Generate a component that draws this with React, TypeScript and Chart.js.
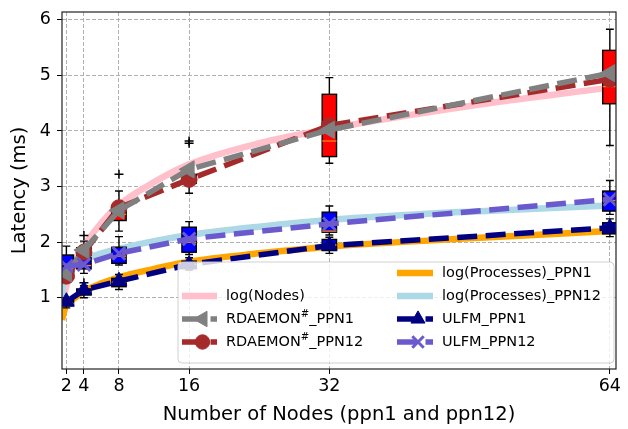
import React, { useEffect, useRef } from 'react';
import { Chart, registerables } from 'chart.js';
import { drawPoint } from 'chart.js/helpers';

Chart.register(...registerables);

const FONT = '"DejaVu Sans", "Liberation Sans", sans-serif';

// ---------- data ----------
const nodes = [2, 4, 8, 16, 32, 64];
const xTickValues = [2, 4, 8, 16, 32, 64];
const yTickValues = [1, 2, 3, 4, 5, 6];

// sample positions of the fitted log curves
const curveX = [1.5, 1.6, 1.75, 2, 3, 4, 6, 8, 12, 16, 24, 32, 48, 64];
const logNodes = [0.72, 0.86, 1.02, 1.22, 1.62, 1.93, 2.35, 2.67, 3.08, 3.4, 3.78, 4.04, 4.45, 4.78];
const logProcPPN1 = [0.6, 0.67, 0.76, 0.87, 1.0, 1.12, 1.26, 1.37, 1.52, 1.65, 1.8, 1.92, 2.07, 2.2];
const logProcPPN12 = [1.0, 1.25, 1.42, 1.52, 1.62, 1.69, 1.8, 1.88, 2.02, 2.13, 2.28, 2.4, 2.55, 2.66];

// measured means
const rdaemonPPN1 = [1.44, 1.86, 2.57, 3.31, 4.02, 5.04];
const rdaemonPPN12 = [1.39, 1.82, 2.62, 3.13, 4.1, 4.93];
const ulfmPPN1 = [0.93, 1.14, 1.3, 1.6, 1.94, 2.26];
const ulfmPPN12 = [1.57, 1.6, 1.8, 2.06, 2.33, 2.77];

// box plots: [whiskerLow, q1, median, q3, whiskerHigh] per node count
const boxRdaemon = [
  [1.3, 1.35, 1.42, 1.5, 1.58],
  [1.7, 1.76, 1.83, 1.9, 2.02],
  [2.2, 2.39, 2.5, 2.65, 2.92],
  [2.88, 3.06, 3.1, 3.22, 3.32],
  [3.42, 3.54, 3.82, 4.66, 4.96],
  [3.74, 4.49, 4.8, 5.45, 5.83],
];
const boxUlfmPPN12 = [
  [1.38, 1.47, 1.6, 1.77, 1.93],
  [1.44, 1.52, 1.58, 1.72, 1.8],
  [1.59, 1.62, 1.75, 1.91, 2.1],
  [1.78, 1.82, 2.0, 2.27, 2.37],
  [2.13, 2.18, 2.2, 2.54, 2.65],
  [2.5, 2.56, 2.75, 2.92, 3.11],
];
const boxUlfmPPN1 = [
  [0.82, 0.86, 0.9, 0.95, 1.0],
  [1.0, 1.05, 1.1, 1.16, 1.22],
  [1.15, 1.2, 1.28, 1.35, 1.42],
  [1.5, 1.55, 1.6, 1.66, 1.72],
  [1.8, 1.85, 1.95, 2.05, 2.09],
  [2.1, 2.15, 2.25, 2.35, 2.42],
];
// outliers [x, y]
const fliers = [
  [4, 2.12],
  [8, 3.22],
  [16, 3.78],
  [16, 3.82],
  [4, 1.27],
];

const pts = (xs: number[], ys: number[]) => xs.map((x, i) => ({ x, y: ys[i] }));

// ---------- drawing helpers ----------
const BOX_HALF = 0.82; // in x data units
const CAP_HALF = 0.45;

function drawBoxes(chart: any) {
  const { ctx, chartArea, scales } = chart;
  const xs = scales.x;
  const ys = scales.y;
  ctx.save();
  ctx.beginPath();
  ctx.rect(chartArea.left, chartArea.top, chartArea.right - chartArea.left, chartArea.bottom - chartArea.top);
  ctx.clip();
  const series: [number[][], string][] = [
    [boxUlfmPPN1, '#0000ff'],
    [boxUlfmPPN12, '#0000ff'],
    [boxRdaemon, '#ff0000'],
  ];
  series.forEach(([boxes, fill]) => {
    boxes.forEach((b, i) => {
      const xv = nodes[i];
      const xc = xs.getPixelForValue(xv);
      const xl = xs.getPixelForValue(xv - BOX_HALF);
      const xr = xs.getPixelForValue(xv + BOX_HALF);
      const cl = xs.getPixelForValue(xv - CAP_HALF);
      const cr = xs.getPixelForValue(xv + CAP_HALF);
      const [lo, q1, med, q3, hi] = b.map((v) => ys.getPixelForValue(v));
      ctx.strokeStyle = '#000';
      ctx.lineWidth = 1.4;
      ctx.setLineDash([]);
      ctx.beginPath();
      ctx.moveTo(xc, lo); ctx.lineTo(xc, q1);
      ctx.moveTo(xc, q3); ctx.lineTo(xc, hi);
      ctx.moveTo(cl, lo); ctx.lineTo(cr, lo);
      ctx.moveTo(cl, hi); ctx.lineTo(cr, hi);
      ctx.stroke();
      ctx.fillStyle = fill;
      ctx.fillRect(xl, q3, xr - xl, q1 - q3);
      ctx.strokeRect(xl, q3, xr - xl, q1 - q3);
      ctx.strokeStyle = '#ff7f0e';
      ctx.beginPath();
      ctx.moveTo(xl, med); ctx.lineTo(xr, med);
      ctx.stroke();
    });
  });
  ctx.strokeStyle = '#000';
  ctx.lineWidth = 1.5;
  fliers.forEach(([fx, fy]) => {
    const px = xs.getPixelForValue(fx);
    const py = ys.getPixelForValue(fy);
    ctx.beginPath();
    ctx.moveTo(px - 4.5, py); ctx.lineTo(px + 4.5, py);
    ctx.moveTo(px, py - 4.5); ctx.lineTo(px, py + 4.5);
    ctx.stroke();
  });
  ctx.restore();
}

function drawHandle(ctx: CanvasRenderingContext2D, ds: any, x0: number, x1: number, y: number) {
  ctx.save();
  ctx.strokeStyle = ds.borderColor;
  ctx.lineWidth = ds.borderWidth;
  ctx.lineCap = 'butt';
  ctx.setLineDash(ds.borderDash || []);
  ctx.beginPath();
  ctx.moveTo(x0, y);
  ctx.lineTo(x1, y);
  ctx.stroke();
  ctx.restore();
  if (ds.pointRadius > 0) {
    ctx.save();
    ctx.fillStyle = ds.pointBackgroundColor;
    ctx.strokeStyle = ds.pointBorderColor;
    ctx.lineWidth = ds.pointBorderWidth;
    ctx.setLineDash([]);
    drawPoint(ctx, { pointStyle: ds.pointStyle, rotation: ds.pointRotation || 0, radius: ds.pointRadius * 0.9, borderWidth: ds.pointBorderWidth } as any, (x0 + x1) / 2 + 3, y);
    ctx.restore();
  }
}

function drawLabel(ctx: CanvasRenderingContext2D, text: string, x: number, y: number) {
  ctx.fillStyle = '#000';
  ctx.textBaseline = 'middle';
  ctx.textAlign = 'left';
  const parts = text.split('#');
  ctx.font = `14.5px ${FONT}`;
  if (parts.length === 1) {
    ctx.fillText(text, x, y);
    return;
  }
  ctx.fillText(parts[0], x, y);
  let cx = x + ctx.measureText(parts[0]).width;
  ctx.font = `10px ${FONT}`;
  ctx.fillText('#', cx, y - 5);
  cx += ctx.measureText('#').width;
  ctx.font = `14.5px ${FONT}`;
  ctx.fillText(parts[1], cx, y);
}

const overlayPlugin = {
  id: 'overlay',
  beforeDatasetDraw(chart: any, args: any) {
    if (args.index === 2) drawBoxes(chart);
  },
  afterDatasetsDraw(chart: any) {
    const { ctx, chartArea } = chart;
    // axes frame
    ctx.save();
    ctx.strokeStyle = '#222';
    ctx.lineWidth = 1.2;
    ctx.setLineDash([]);
    ctx.strokeRect(chartArea.left, chartArea.top, chartArea.right - chartArea.left, chartArea.bottom - chartArea.top);
    ctx.restore();

    // legend
    ctx.save();
    const bx = 178, by = 262, bw = 436, bh = 101, r = 4;
    ctx.beginPath();
    ctx.moveTo(bx + r, by);
    ctx.arcTo(bx + bw, by, bx + bw, by + bh, r);
    ctx.arcTo(bx + bw, by + bh, bx, by + bh, r);
    ctx.arcTo(bx, by + bh, bx, by, r);
    ctx.arcTo(bx, by, bx + bw, by, r);
    ctx.closePath();
    ctx.fillStyle = 'rgba(255,255,255,0.8)';
    ctx.fill();
    ctx.strokeStyle = 'rgba(204,204,204,0.9)';
    ctx.lineWidth = 1;
    ctx.stroke();

    const ds = chart.data.datasets;
    const rows = [273, 296, 319, 342];
    const col1 = [null, ds[0], ds[1], ds[2]];
    const col2 = [ds[3], ds[4], ds[5], ds[6]];
    col1.forEach((d: any, i: number) => {
      if (!d) return;
      drawHandle(ctx, d, 182, 217, rows[i]);
      drawLabel(ctx, d.label, 226, rows[i]);
    });
    col2.forEach((d: any, i: number) => {
      drawHandle(ctx, d, 397, 433, rows[i]);
      drawLabel(ctx, d.label, 442, rows[i]);
    });
    ctx.restore();
  },
};

export default function App() {
  const ref = useRef<HTMLCanvasElement>(null);
  useEffect(() => {
    const canvas = ref.current!;
    const dashed = [20, 8.5];
    const chart = new Chart(canvas, {
      type: 'line',
      data: {
        datasets: [
          {
            label: 'log(Nodes)', data: pts(curveX, logNodes), borderColor: '#ffc0cb', borderWidth: 6.5,
            pointRadius: 0, cubicInterpolationMode: 'monotone', order: 10, clip: 0,
          },
          {
            label: 'RDAEMON#_PPN1', data: pts(nodes, rdaemonPPN1), borderColor: '#808080', borderWidth: 5.5,
            borderDash: dashed, borderCapStyle: 'butt', pointStyle: 'triangle', pointRotation: -90, pointRadius: 10,
            pointBackgroundColor: '#808080', pointBorderColor: '#808080', pointBorderWidth: 1, order: 6, clip: 0,
          },
          {
            label: 'RDAEMON#_PPN12', data: pts(nodes, rdaemonPPN12), borderColor: '#a52a2a', borderWidth: 5.5,
            borderDash: dashed, borderCapStyle: 'butt', pointStyle: 'circle', pointRadius: 8,
            pointBackgroundColor: '#a52a2a', pointBorderColor: '#a52a2a', pointBorderWidth: 1, order: 7, clip: 0,
          },
          {
            label: 'log(Processes)_PPN1', data: pts(curveX, logProcPPN1), borderColor: '#ffa500', borderWidth: 6.5,
            pointRadius: 0, cubicInterpolationMode: 'monotone', order: 9, clip: 0,
          },
          {
            label: 'log(Processes)_PPN12', data: pts(curveX, logProcPPN12), borderColor: '#add8e6', borderWidth: 6.5,
            pointRadius: 0, cubicInterpolationMode: 'monotone', order: 8, clip: 0,
          },
          {
            label: 'ULFM_PPN1', data: pts(nodes, ulfmPPN1), borderColor: '#000080', borderWidth: 5.5,
            borderDash: dashed, borderCapStyle: 'butt', pointStyle: 'triangle', pointRadius: 9,
            pointBackgroundColor: '#000080', pointBorderColor: '#000080', pointBorderWidth: 1, order: 5, clip: 0,
          },
          {
            label: 'ULFM_PPN12', data: pts(nodes, ulfmPPN12), borderColor: '#6a5acd', borderWidth: 5.5,
            borderDash: dashed, borderCapStyle: 'butt', pointStyle: 'crossRot', pointRadius: 9,
            pointBackgroundColor: '#6a5acd', pointBorderColor: '#6a5acd', pointBorderWidth: 3, order: 4, clip: 0,
          },
        ] as any,
      },
      options: {
        responsive: false,
        devicePixelRatio: 1,
        animation: false,
        layout: { padding: { top: 6, right: 7, left: 0, bottom: 0 } },
        plugins: { legend: { display: false }, tooltip: { enabled: false } },
        scales: {
          x: {
            type: 'linear', min: 1.5, max: 64.7,
            afterBuildTicks: (s: any) => { s.ticks = xTickValues.map((v) => ({ value: v })); },
            afterFit: (s: any) => { s.height = 60; s.paddingLeft = 0; s.paddingRight = 0; },
            ticks: { font: { family: FONT, size: 17.5 }, color: '#000', padding: 2, maxRotation: 0, autoSkip: false, callback: (v: any) => String(v) },
            grid: { color: '#b0b0b0', lineWidth: 1, tickColor: '#000', tickLength: 5, tickWidth: 1, tickBorderDash: [] },
            border: { display: false, dash: [4, 2] },
            title: { display: true, text: 'Number of Nodes (ppn1 and ppn12)', font: { family: FONT, size: 19.5 }, color: '#000', padding: { top: 0, bottom: 2.4 } },
          },
          y: {
            type: 'linear', min: -0.28, max: 6.14,
            afterBuildTicks: (s: any) => { s.ticks = yTickValues.map((v) => ({ value: v })); },
            afterFit: (s: any) => { s.width = 62; s.paddingTop = 0; s.paddingBottom = 0; },
            ticks: { font: { family: FONT, size: 17.5 }, color: '#000', padding: 6, callback: (v: any) => String(v) },
            grid: { color: '#b0b0b0', lineWidth: 1, tickColor: '#000', tickLength: 5, tickWidth: 1, tickBorderDash: [] },
            border: { display: false, dash: [4, 2] },
            title: { display: true, text: 'Latency (ms)', font: { family: FONT, size: 19.5 }, color: '#000', padding: { top: 8.3, bottom: 0 } },
          },
        },
      } as any,
      plugins: [overlayPlugin],
    });
    return () => chart.destroy();
  }, []);
  return (
    <div style={{ position: 'fixed', left: 0, top: 0, width: 628, height: 429, background: '#fff' }}>
      <canvas ref={ref} width={628} height={429} style={{ display: 'block', width: 628, height: 429 }} />
    </div>
  );
}
